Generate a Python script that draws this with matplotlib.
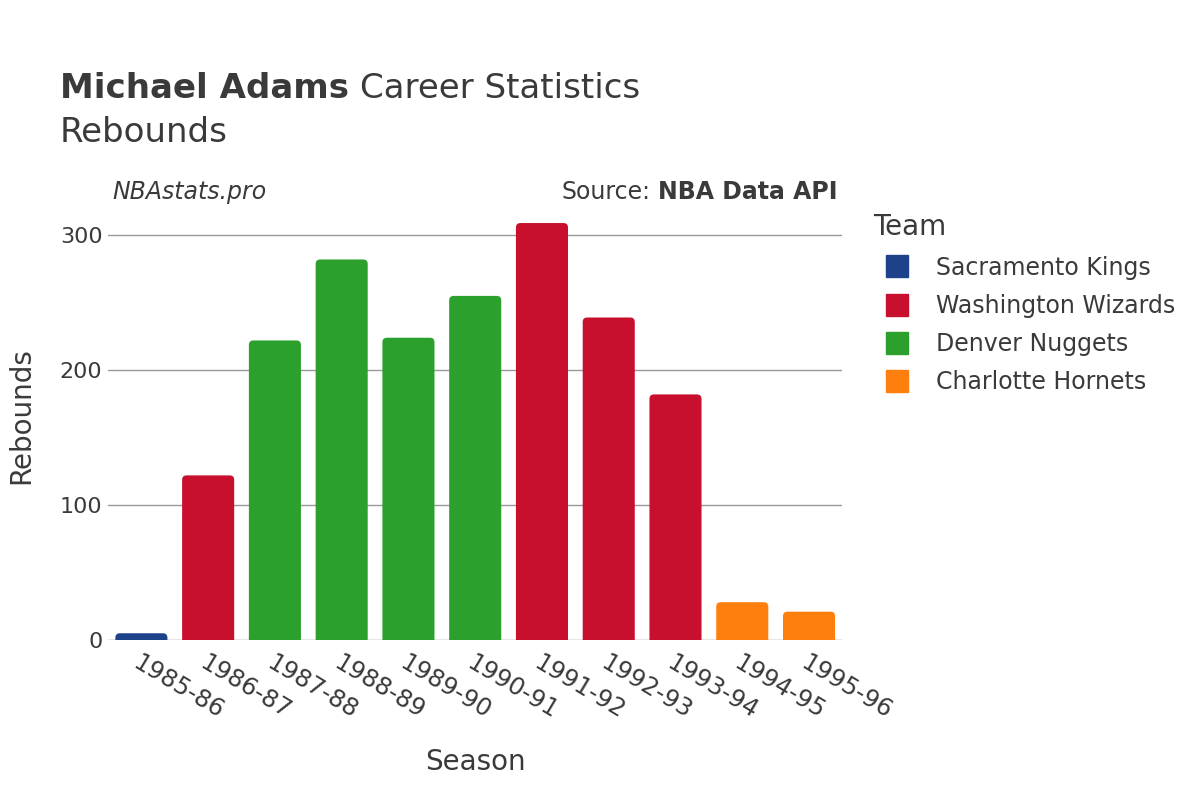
import numpy as np
import matplotlib.pyplot as plt
from matplotlib.lines import Line2D
from matplotlib.patches import FancyBboxPatch

# data
seasons = ["1985-86", "1986-87", "1987-88", "1988-89", "1989-90", "1990-91",
           "1991-92", "1992-93", "1993-94", "1994-95", "1995-96"]
rebounds = [5, 122, 222, 282, 224, 255, 309, 239, 182, 28, 21]
teams = ["Sacramento Kings", "Washington Wizards", "Denver Nuggets", "Denver Nuggets",
         "Denver Nuggets", "Denver Nuggets", "Washington Wizards", "Washington Wizards",
         "Washington Wizards", "Charlotte Hornets", "Charlotte Hornets"]
team_order = ["Sacramento Kings", "Washington Wizards", "Denver Nuggets", "Charlotte Hornets"]
team_colors = {"Sacramento Kings": "#1d428a", "Washington Wizards": "#c8102e",
               "Denver Nuggets": "#2ca02c", "Charlotte Hornets": "#ff7f0e"}

txt = "#3a3a3a"
plt.rcParams['font.family'] = ['DejaVu Sans']

fig = plt.figure(figsize=(12, 8), dpi=100)
ax = fig.add_axes([0.09, 0.2, 0.612, 0.56])

x = np.arange(len(seasons))
bars = ax.bar(x, rebounds, width=0.78, color=[team_colors[t] for t in teams], zorder=3)

ax.set_xlim(-0.5, len(seasons) - 0.5)
ax.set_ylim(0, 332)

# swap plain bars for ones with rounded tops (bottom hidden below zero)
px_x = 0.612 * 1200 / len(seasons)
px_y = 0.56 * 800 / 332
for b in bars:
    bx, bw, bh = b.get_x(), b.get_width(), b.get_height()
    rp = FancyBboxPatch((bx, -6), bw, bh + 6,
                        boxstyle="round,pad=0,rounding_size=%f" % (4.5 / px_x),
                        mutation_aspect=px_x / px_y,
                        facecolor=b.get_facecolor(), edgecolor='none', zorder=3)
    ax.add_patch(rp)
    b.remove()

ax.set_yticks([0, 100, 200, 300])
ax.grid(axis='y', color='#999999', linewidth=1, zorder=0)
ax.axhline(0, color='#e6e6e6', linewidth=2, zorder=2)
for s in ax.spines.values():
    s.set_visible(False)
ax.tick_params(length=0, labelsize=16, labelcolor=txt)
ax.tick_params(axis='y', pad=4)
ax.set_xticks(x)
ax.set_xticklabels(seasons, rotation=-31, ha='left', va='top', rotation_mode='anchor')
ax.tick_params(axis='x', pad=8, labelsize=17.5)

ax.set_xlabel("Season", fontsize=20, color=txt, labelpad=17)
ax.set_ylabel("Rebounds", fontsize=20, color=txt, labelpad=18)

t1 = fig.text(0.05, 0.89, "Michael Adams", fontsize=24.5, color=txt, va='center', fontweight='bold')
fig.canvas.draw()
bb = t1.get_window_extent()
fig.text(bb.x1 / fig.bbox.width + 0.009, 0.89, "Career Statistics", fontsize=24.5, color=txt, va='center')
fig.text(0.05, 0.835, "Rebounds", fontsize=24.5, color=txt, va='center')

fig.text(0.094, 0.76, "NBAstats.pro", fontsize=17, color=txt, style='italic', va='center')
s2 = fig.text(0.698, 0.76, "NBA Data API", fontsize=17, color=txt, fontweight='bold', va='center', ha='right')
fig.canvas.draw()
bb2 = s2.get_window_extent()
fig.text(bb2.x0 / fig.bbox.width - 0.006, 0.76, "Source:", fontsize=17, color=txt, va='center', ha='right')

handles = [Line2D([0], [0], marker='s', linestyle='', markersize=16,
                  markerfacecolor=team_colors[t], markeredgecolor=team_colors[t]) for t in team_order]
leg = fig.legend(handles, team_order, loc='upper left', bbox_to_anchor=(0.7198, 0.745),
                 frameon=False, fontsize=17, title="Team", title_fontsize=20,
                 labelspacing=0.6, handletextpad=0.68, borderaxespad=0)
leg.get_title().set_color(txt)
leg._legend_box.align = "left"
for t in leg.get_texts():
    t.set_color(txt)

fig.savefig("out.png", dpi=100)
